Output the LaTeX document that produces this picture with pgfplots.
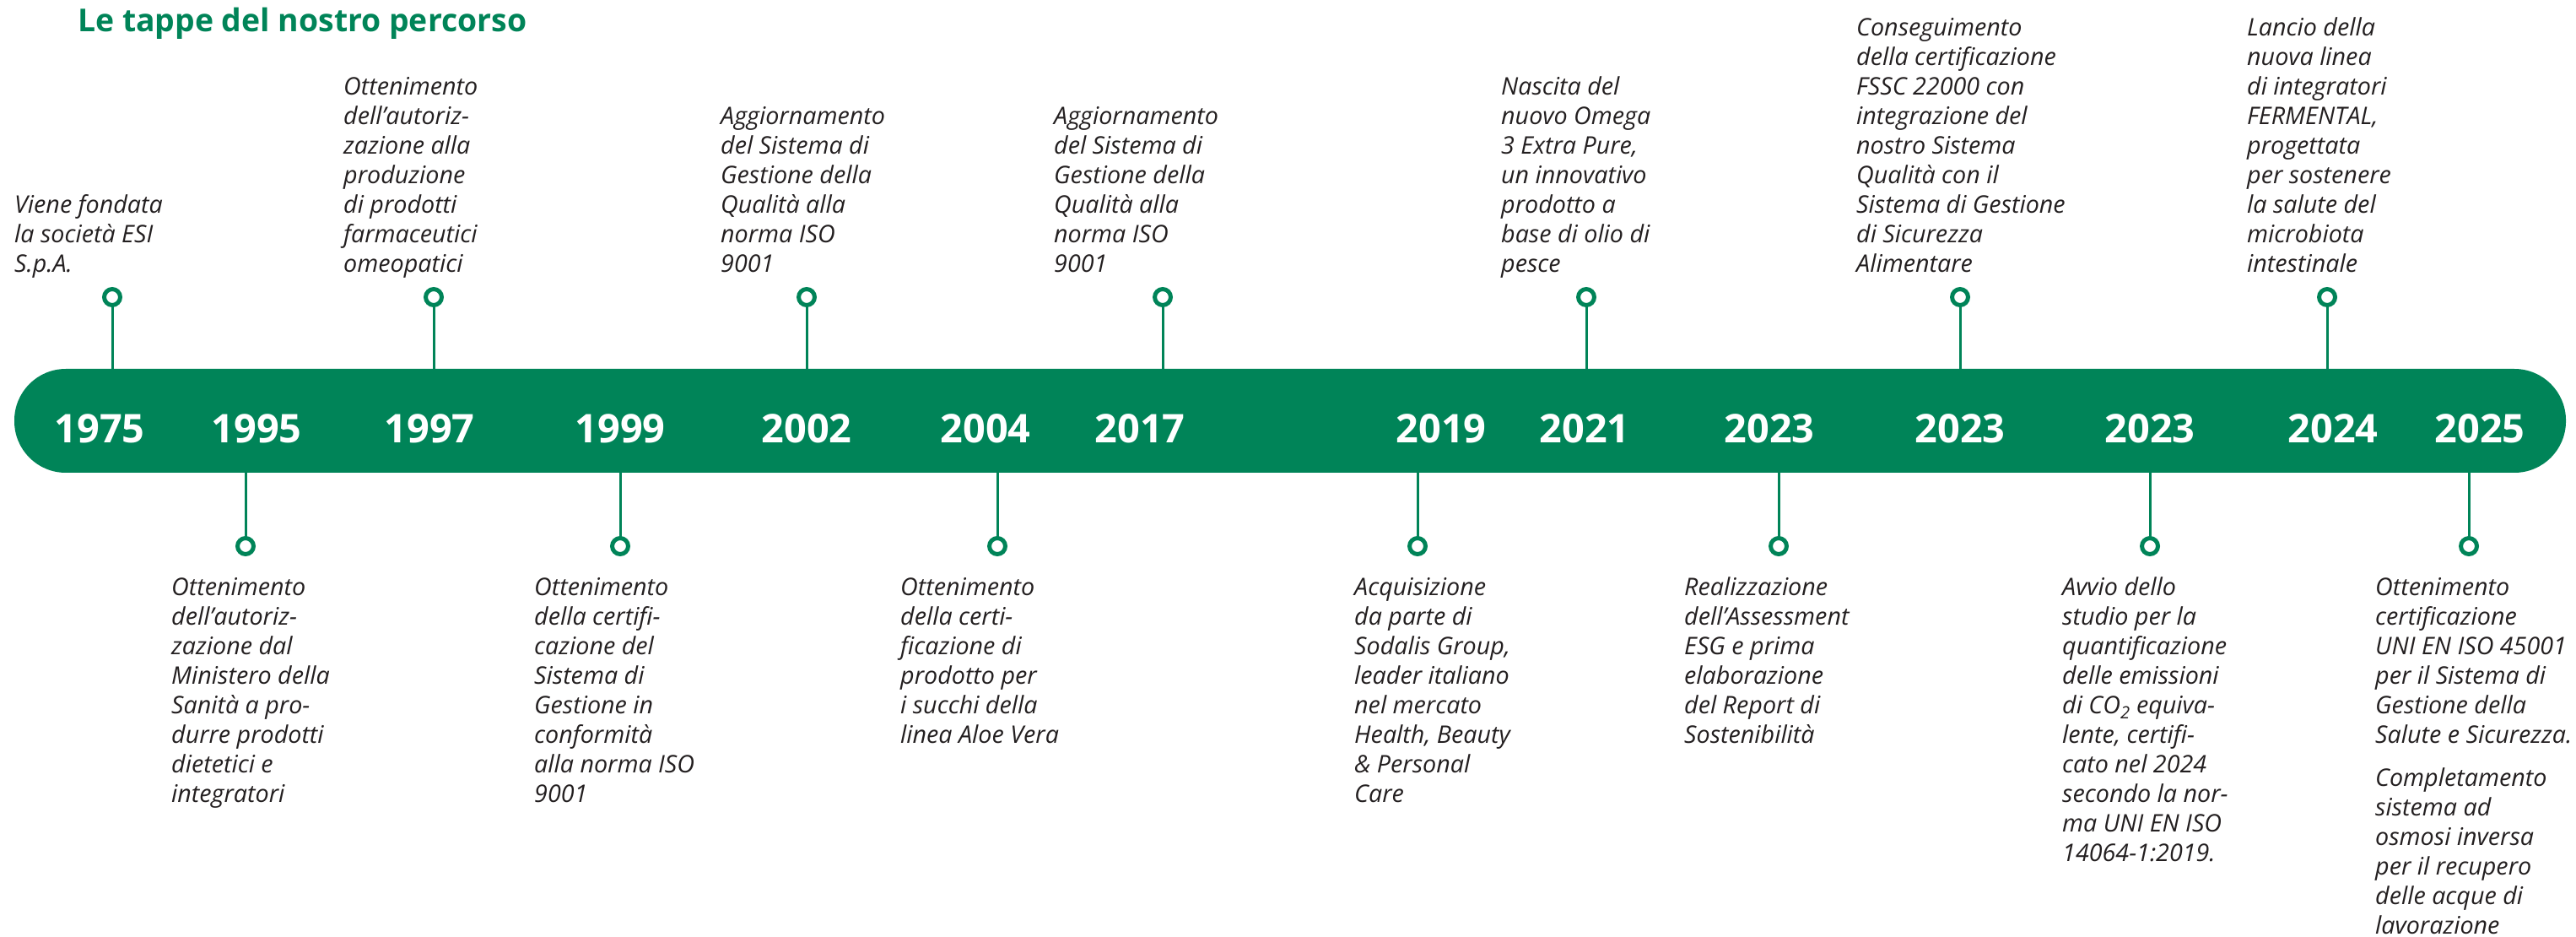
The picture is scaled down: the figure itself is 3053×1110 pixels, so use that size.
\documentclass[border=0pt]{standalone}
\usepackage{fontspec}
\setmainfont{Open Sans}
\usepackage{pgfplots}
\pgfplotsset{compat=1.18}

\definecolor{esigreen}{RGB}{0,132,88}
\definecolor{txt}{RGB}{35,31,32}

% text block: x, first baseline, lines (pixel units, y downwards)
\newcommand{\tblock}[3]{%
  \foreach \l [count=\i from 0] in {#3}
    \node[anchor=base west, inner sep=0pt, text=txt,
          font=\fontsize{28.8}{35}\selectfont\itshape] at (#1,{#2+35*\i}) {\l};}

\begin{document}
\begin{tikzpicture}
  \useasboundingbox (0,0) rectangle (3053bp,1110bp);
  \clip (0,0) rectangle (3053bp,1110bp);

  \begin{axis}[
      at={(0,0)}, anchor=south west,
      scale only axis, width=3053bp, height=1110bp,
      xmin=0, xmax=3053, ymin=0, ymax=1110,
      y dir=reverse, hide axis, clip=false,
    ]
    % timeline bar
    \addplot[fill=esigreen, draw=none, rounded corners=61bp]
      coordinates {(1500,437) (3041,437) (3041,560) (17,560) (17,437) (1500,437)};

    % stems above
    \pgfplotsinvokeforeach{133,514,956,1378,1880,2323,2758}{
      \addplot[esigreen, line width=3bp] coordinates {(#1,438) (#1,360)};
    }
    % stems below
    \pgfplotsinvokeforeach{291,735,1182,1680,2108,2548,2926}{
      \addplot[esigreen, line width=3bp] coordinates {(#1,559) (#1,640)};
    }
    % rings
    \addplot[only marks, mark=*, mark size=9.5,
      mark options={fill=white, draw=esigreen, line width=5bp}]
      coordinates {(133,352) (514,352) (956,352) (1378,352) (1880,352) (2323,352) (2758,352)
                   (291,647) (735,647) (1182,647) (1680,647) (2108,647) (2548,647) (2926,647)};
  \end{axis}

  \begin{scope}[x=1bp, y=-1bp, shift={(0pt,1110bp)}]
    % title
    \node[anchor=base west, inner sep=0pt, text=esigreen,
          font=\fontsize{37.5}{40}\selectfont\bfseries] at (92,38) {Le tappe del nostro percorso};

    % years
    \foreach \x/\yr in {118/1975, 304/1995, 509/1997, 735/1999, 956/2002, 1168/2004,
                        1351/2017, 1708/2019, 1878/2021, 2097/2023, 2323/2023,
                        2548/2023, 2765/2024, 2939/2025}
      \node[anchor=base, inner sep=0pt, text=white,
            font=\fontsize{47}{50}\selectfont\bfseries] at (\x,525) {\yr};

    % texts above the bar
    \tblock{17}{253}{Viene fondata, la società ESI, S.p.A.}
    \tblock{407}{113}{Ottenimento, dell’autoriz-, zazione alla, produzione, di prodotti, farmaceutici, omeopatici}
    \tblock{854}{148}{Aggiornamento, del Sistema di, Gestione della, Qualità alla, norma ISO, 9001}
    \tblock{1249}{148}{Aggiornamento, del Sistema di, Gestione della, Qualità alla, norma ISO, 9001}
    \tblock{1779}{113}{Nascita del, nuovo Omega, {3 Extra Pure,}, un innovativo, prodotto a, base di olio di, pesce}
    \tblock{2200}{43}{Conseguimento, della certificazione, FSSC 22000 con, integrazione del, nostro Sistema, Qualità con il, Sistema di Gestione, di Sicurezza, Alimentare}
    \tblock{2663}{43}{Lancio della, nuova linea, di integratori, {FERMENTAL,}, progettata, per sostenere, la salute del, microbiota, intestinale}

    % texts below the bar
    \tblock{203}{706}{Ottenimento, dell’autoriz-, zazione dal, Ministero della, Sanità a pro-, durre prodotti, dietetici e, integratori}
    \tblock{633}{706}{Ottenimento, della certifi-, cazione del, Sistema di, Gestione in, conformità, alla norma ISO, 9001}
    \tblock{1067}{706}{Ottenimento, della certi-, ficazione di, prodotto per, i succhi della, linea Aloe Vera}
    \tblock{1605}{706}{Acquisizione, da parte di, {Sodalis Group,}, leader italiano, nel mercato, {Health, Beauty}, \& Personal, Care}
    \tblock{1996}{706}{Realizzazione, dell’Assessment, ESG e prima, elaborazione, del Report di, Sostenibilità}
    \tblock{2444}{706}{Avvio dello, studio per la, quantificazione, delle emissioni, di CO\textsubscript{2} equiva-, {lente, certifi-}, cato nel 2024, secondo la nor-, ma UNI EN ISO, 14064-1:2019.}
    \tblock{2815}{706}{Ottenimento, certificazione, UNI EN ISO 45001, per il Sistema di, Gestione della, Salute e Sicurezza.}
    \tblock{2815}{932}{Completamento, sistema ad, osmosi inversa, per il recupero, delle acque di, lavorazione}
  \end{scope}
\end{tikzpicture}
\end{document}
